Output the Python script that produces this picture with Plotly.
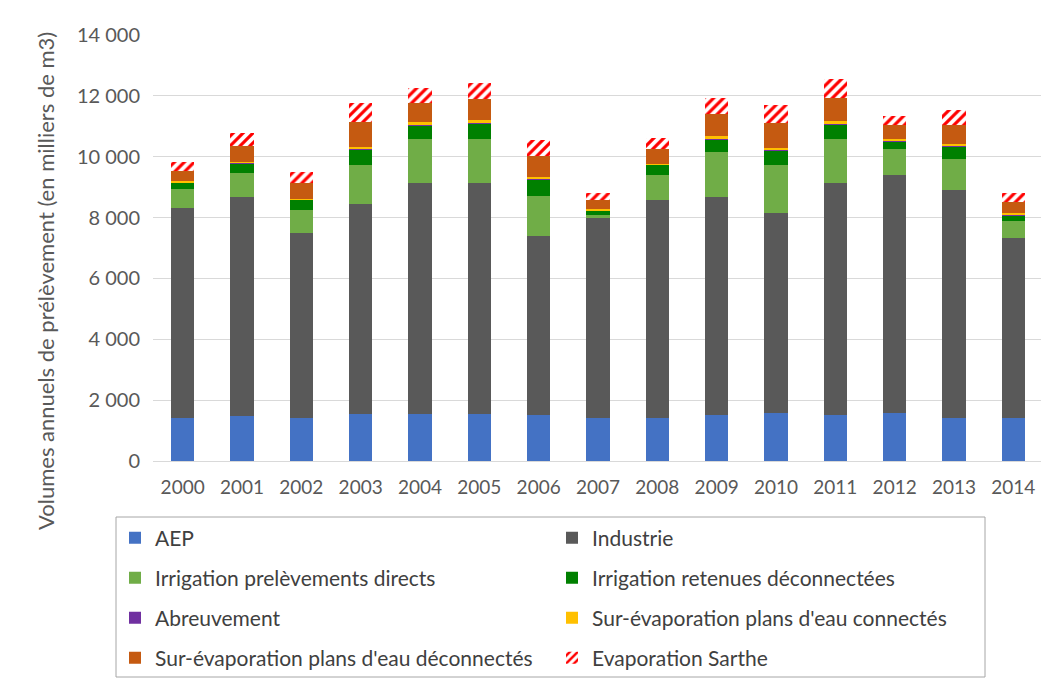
import plotly.graph_objects as go

years = ["2000", "2001", "2002", "2003", "2004", "2005", "2006", "2007",
         "2008", "2009", "2010", "2011", "2012", "2013", "2014"]

aep = [1400, 1480, 1400, 1530, 1530, 1550, 1510, 1400, 1400, 1510, 1570, 1510, 1570, 1400, 1400]
industrie = [6900, 7180, 6080, 6900, 7600, 7580, 5900, 6580, 7180, 7150, 6570, 7610, 7830, 7500, 5940]
irr_directs = [630, 820, 770, 1310, 1450, 1450, 1310, 110, 820, 1500, 1590, 1450, 840, 1040, 560]
irr_retenues = [220, 300, 330, 490, 440, 520, 530, 140, 330, 420, 470, 490, 270, 380, 180]
abreuvement = [15, 15, 15, 15, 15, 15, 15, 15, 15, 15, 20, 15, 15, 20, 20]
surevap_conn = [30, 40, 30, 90, 90, 90, 80, 30, 30, 90, 80, 90, 50, 70, 40]
surevap_deconn = [350, 530, 510, 800, 650, 690, 670, 290, 480, 710, 800, 770, 460, 630, 370]
evap_sarthe = [270, 420, 360, 620, 490, 540, 530, 240, 360, 530, 600, 610, 310, 490, 300]

series = [
    ("AEP", aep, "#4472C4"),
    ("Industrie", industrie, "#595959"),
    ("Irrigation prelèvements directs", irr_directs, "#70AD47"),
    ("Irrigation retenues déconnectées", irr_retenues, "#008000"),
    ("Abreuvement", abreuvement, "#7030A0"),
    ("Sur-évaporation plans d'eau connectés", surevap_conn, "#FFC000"),
    ("Sur-évaporation plans d'eau déconnectés", surevap_deconn, "#C55A11"),
    ("Evaporation Sarthe", evap_sarthe, None),
]

OFF = 8  # page body margin
W, H = 1049 - OFF, 680 - OFF
L, R, T, B = 153 - OFF, 6, 35 - OFF, 680 - 461
pw, ph = W - L - R, H - T - B

def px_x(p):
    return (p - OFF - L) / pw

def px_y(p):
    return (H - B - (p - OFF)) / ph

FONT = "Lato"
TXT = "#595959"

fig = go.Figure()
row_y = [538, 578, 618, 658]
col_x = [115, 552]
for i, (name, vals, col) in enumerate(series):
    lg = f"legend{i+2}"
    if col is None:
        marker = dict(color="white",
                      pattern=dict(shape="/", fgcolor="#FF0000", bgcolor="white",
                                   size=7, solidity=0.45, fillmode="replace"),
                      line=dict(width=0))
    else:
        marker = dict(color=col, line=dict(width=0))
    fig.add_trace(go.Bar(x=years, y=vals, name=name, marker=marker, legend=lg,
                         showlegend=True))

layout_legends = {}
for i in range(len(series)):
    key = f"legend{i+2}"
    r, c = divmod(i, 2)
    layout_legends[key] = dict(
        x=px_x(col_x[c]), y=px_y(row_y[r]), xanchor="left", yanchor="middle",
        orientation="h", bgcolor="rgba(0,0,0,0)",
        font=dict(family=FONT, size=21, color="#404040"),
        itemwidth=30,
    )

fig.update_layout(
    width=W, height=H,
    margin=dict(l=L, r=R, t=T, b=B, autoexpand=False),
    barmode="stack",
    bargap=0.61,
    showlegend=True,
    plot_bgcolor="white",
    paper_bgcolor="white",
    separators=", ",
    font=dict(family=FONT, size=18, color=TXT),
    xaxis=dict(tickfont=dict(family=FONT, size=19, color=TXT), showgrid=False,
               showline=True, linecolor="#D9D9D9", linewidth=1, ticks="",
               ticklabelstandoff=9, automargin=False),
    yaxis=dict(range=[0, 14000], tickvals=[0, 2000, 4000, 6000, 8000, 10000, 12000, 14000],
               tickformat=",d", tickfont=dict(family=FONT, size=20, color=TXT),
               showgrid=True, gridcolor="#D9D9D9", gridwidth=1, zeroline=False,
               ticks="", ticklabelstandoff=12, automargin=False),
    **layout_legends,
)

fig.add_shape(type="rect", xref="paper", yref="paper",
              x0=px_x(116), x1=px_x(985), y0=px_y(677), y1=px_y(517),
              line=dict(color="#A6A6A6", width=1), fillcolor="rgba(0,0,0,0)", layer="below")

fig.add_annotation(text="Volumes annuels de prélèvement (en milliers de m3)",
                   xref="paper", yref="paper", x=px_x(45), y=px_y(281),
                   textangle=-90, showarrow=False, xanchor="center", yanchor="middle",
                   font=dict(family=FONT, size=22, color=TXT))

fig.write_html("out.html")
